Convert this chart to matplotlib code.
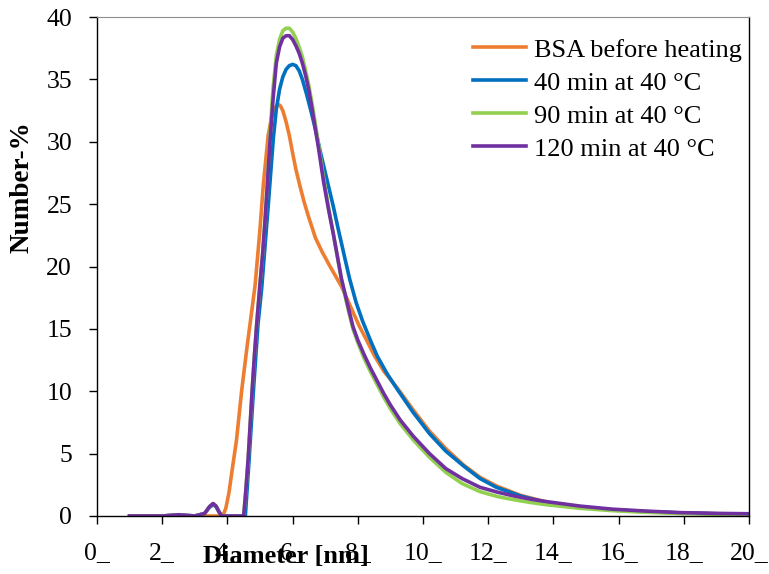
import matplotlib
matplotlib.use("Agg")
import matplotlib.pyplot as plt

# Datos (diametro en nm, Number-%)
x_bsa = [1.0, 2.0, 3.0, 3.5, 3.8, 3.87, 3.95, 4.05, 4.13, 4.28, 4.44, 4.59, 4.75, 4.85,
         5.0, 5.1, 5.25, 5.35, 5.45, 5.55, 5.62, 5.7, 5.8, 5.9, 6.0, 6.1, 6.23, 6.35,
         6.5, 6.7, 6.9, 7.15, 7.5, 7.86, 8.05, 8.27, 8.5, 8.8, 9.2, 9.7, 10.2, 10.7,
         11.24, 11.75, 12.26, 13.0, 13.9, 14.8, 15.8, 16.8, 17.9, 19.0, 20.0]
y_bsa = [0, 0, 0, 0, 0, 0.1, 0.6, 1.9, 3.4, 6.1, 10.1, 13.3, 16.5, 18.5,
         23.0, 26.5, 30.5, 31.9, 32.7, 33.0, 32.9, 32.5, 31.6, 30.5, 29.1, 27.8, 26.4, 25.2,
         23.9, 22.3, 21.2, 20.0, 18.4, 16.3, 15.2, 14.1, 12.9, 11.6, 10.3, 8.5, 6.8, 5.4,
         4.1, 3.1, 2.4, 1.65, 1.05, 0.72, 0.5, 0.35, 0.25, 0.18, 0.15]

x_40 = [1.0, 2.0, 2.5, 3.0, 3.3, 3.45, 3.56, 3.65, 3.75, 3.82, 4.55, 4.67, 4.8, 4.94,
        5.05, 5.25, 5.41, 5.5, 5.6, 5.7, 5.8, 5.9, 6.0, 6.1, 6.2, 6.3, 6.43, 6.55,
        6.7, 6.85, 7.05, 7.25, 7.4, 7.6, 7.75, 7.95, 8.15, 8.4, 8.6, 8.9, 9.2, 9.7,
        10.2, 10.7, 11.25, 11.75, 12.25, 13.0, 13.9, 14.8, 15.8, 16.8, 17.9, 19.0, 20.0]
y_40 = [0, 0, 0.1, 0, 0.2, 0.7, 0.9, 0.75, 0.3, 0, 0, 4.7, 10.1, 15.4,
        18.2, 24.8, 30.3, 32.6, 34.2, 35.2, 35.8, 36.1, 36.2, 36.1, 35.7, 35.0, 33.8, 32.6,
        31.0, 29.2, 27.0, 24.8, 23.0, 20.7, 19.0, 17.1, 15.6, 14.0, 12.8, 11.4, 10.2, 8.3,
        6.6, 5.2, 4.0, 3.0, 2.3, 1.6, 1.0, 0.7, 0.5, 0.35, 0.25, 0.18, 0.15]

x_90 = [1.0, 2.0, 2.5, 3.0, 3.3, 3.45, 3.56, 3.65, 3.75, 3.82, 4.5, 4.57, 4.64, 4.7,
        4.76, 4.83, 4.9, 5.0, 5.08, 5.15, 5.22, 5.3, 5.4, 5.5, 5.6, 5.7, 5.8, 5.9,
        6.0, 6.1, 6.2, 6.3, 6.4, 6.5, 6.6, 6.7, 6.8, 6.95, 7.1, 7.25, 7.5, 7.7,
        7.85, 8.0, 8.2, 8.4, 8.6, 8.8, 9.0, 9.3, 9.7, 10.2, 10.7, 11.2, 11.75, 12.3,
        12.8, 13.3, 13.8, 14.8, 15.8, 16.8, 17.9, 19.0, 20.0]
y_90 = [0, 0, 0.1, 0, 0.2, 0.75, 1.0, 0.8, 0.3, 0, 0, 2.2, 4.7, 7.4,
        10.1, 12.9, 15.4, 18.6, 21.0, 23.6, 26.5, 30.3, 34.3, 36.9, 38.2, 38.9, 39.1, 39.1,
        38.8, 38.3, 37.6, 36.8, 35.7, 34.5, 33.0, 31.4, 29.7, 27.1, 24.8, 22.6, 18.9, 16.6,
        15.0, 13.9, 12.6, 11.5, 10.5, 9.5, 8.6, 7.4, 6.1, 4.7, 3.5, 2.6, 1.95, 1.55,
        1.3, 1.08, 0.9, 0.62, 0.43, 0.3, 0.2, 0.15, 0.12]

x_120 = [1.0, 2.0, 2.5, 3.0, 3.3, 3.45, 3.56, 3.65, 3.75, 3.82, 4.5, 4.57, 4.64, 4.7,
         4.76, 4.83, 4.9, 5.0, 5.08, 5.15, 5.22, 5.3, 5.4, 5.5, 5.6, 5.7, 5.8, 5.9,
         6.0, 6.1, 6.2, 6.3, 6.4, 6.5, 6.6, 6.7, 6.8, 6.95, 7.1, 7.25, 7.5, 7.7,
         7.85, 8.0, 8.2, 8.4, 8.6, 8.8, 9.0, 9.3, 9.7, 10.2, 10.7, 11.2, 11.75, 12.3,
         12.8, 13.3, 13.8, 14.8, 15.8, 16.8, 17.9, 19.0, 20.0]
y_120 = [0, 0, 0.1, 0, 0.2, 0.75, 1.0, 0.8, 0.3, 0, 0, 2.2, 4.7, 7.4,
         10.1, 12.9, 15.4, 18.6, 21.0, 23.5, 26.3, 29.8, 33.4, 36.3, 37.6, 38.3, 38.5, 38.5,
         38.2, 37.7, 37.1, 36.3, 35.3, 34.1, 32.6, 31.0, 29.4, 26.8, 24.6, 22.6, 19.0, 16.8,
         15.2, 14.1, 12.9, 11.8, 10.8, 9.8, 8.9, 7.7, 6.4, 5.0, 3.8, 3.0, 2.3, 1.9,
         1.6, 1.35, 1.15, 0.8, 0.55, 0.4, 0.27, 0.21, 0.18]

labels = ["BSA before heating", "40 min at 40 °C", "90 min at 40 °C", "120 min at 40 °C"]
colores = ["#ED7D31", "#0070C0", "#92D050", "#7030A0"]

x_ticks = list(range(0, 21, 2))
x_ticklabels = [f"{v}_" for v in x_ticks]
y_ticks = list(range(0, 41, 5))

plt.rcParams["font.family"] = ["Liberation Serif", "DejaVu Serif"]

fig = plt.figure(figsize=(7.69, 5.74), dpi=100)
ax = fig.add_axes([97 / 769, 58 / 574, 652 / 769, 499 / 574])

series = [(x_bsa, y_bsa), (x_40, y_40), (x_90, y_90), (x_120, y_120)]
for (xs, ys), lab, col in zip(series, labels, colores):
    ax.plot(xs, ys, color=col, lw=2.6, label=lab, solid_joinstyle="round")

ax.set_xlim(0, 20)
ax.set_ylim(0, 40)
ax.set_xticks(x_ticks)
ax.set_xticklabels(x_ticklabels)
ax.set_yticks(y_ticks)
ax.tick_params(axis="both", direction="out", length=6, width=1, labelsize=18.5, colors="black")
ax.tick_params(axis="x", pad=13)
ax.tick_params(axis="y", pad=12)

ax.spines["top"].set_color("#8c8c8c")
for s in ["left", "bottom", "right"]:
    ax.spines[s].set_color("black")
    ax.spines[s].set_linewidth(1)

ax.legend(loc="upper left", bbox_to_anchor=(0.545, 1.0), frameon=False, fontsize=19,
          handlelength=2.0, handletextpad=0.3, labelspacing=0.36, borderaxespad=0.4)

fig.text(286 / 769, 1 - 556 / 574, "Diameter [nm]", ha="center", va="center",
         fontsize=19, fontweight="bold")
fig.text(22 / 769, 1 - 187 / 574, "Number-%", ha="center", va="center",
         rotation=90, fontsize=19.5, fontweight="bold")

fig.savefig("out.png", dpi=100)
